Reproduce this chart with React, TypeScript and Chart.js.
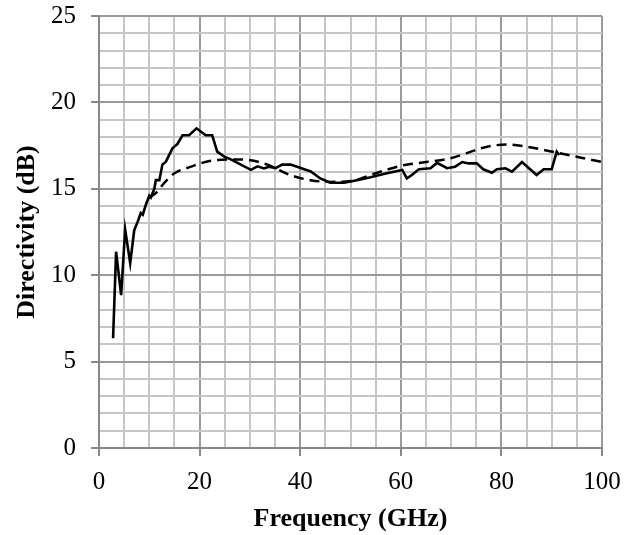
import React, { useEffect, useRef } from "react";
import { Chart, registerables } from "chart.js";

Chart.register(...registerables);

// Measured (solid) curve: frequency (GHz) and directivity (dB)
const solidFreq = [2.8, 3.4, 4.4, 5.2, 6.2, 7.0, 7.7, 8.3, 8.7, 9.3, 10.0, 10.3, 11.0, 11.3, 12.0, 12.6, 13.3, 14.6, 15.6, 16.6, 17.9, 19.4, 21.2, 22.5, 23.5, 24.9, 26.2, 28.2, 30.2, 31.5, 32.8, 33.8, 35.1, 36.4, 38.1, 40.1, 42.1, 44.0, 46.0, 48.7, 51.3, 54.0, 57.0, 60.3, 61.2, 62.2, 63.6, 65.9, 67.2, 69.2, 70.8, 72.2, 73.5, 75.1, 76.4, 78.1, 79.1, 80.8, 82.1, 84.1, 85.7, 87.0, 88.4, 90.0, 91.0, 91.5];
const solidDir = [6.35, 11.36, 8.85, 12.65, 10.7, 12.6, 13.1, 13.6, 13.5, 14.06, 14.6, 14.5, 15.0, 15.5, 15.5, 16.4, 16.57, 17.34, 17.6, 18.1, 18.1, 18.5, 18.1, 18.1, 17.15, 16.86, 16.7, 16.4, 16.1, 16.3, 16.18, 16.28, 16.2, 16.4, 16.4, 16.2, 16.0, 15.6, 15.35, 15.35, 15.5, 15.67, 15.88, 16.09, 15.6, 15.8, 16.13, 16.19, 16.5, 16.19, 16.28, 16.55, 16.47, 16.47, 16.13, 15.93, 16.13, 16.19, 15.99, 16.55, 16.13, 15.8, 16.13, 16.13, 17.15, 16.96];

// Simulated (dashed) curve
const dashedFreq = [10, 11.3, 13, 15, 18.3, 20.5, 23.5, 28.2, 32.8, 38, 42, 46, 50, 55, 60.3, 65, 69.8, 73, 76.4, 81.1, 85, 91, 95, 100];
const dashedDir = [14.5, 14.75, 15.35, 15.9, 16.28, 16.5, 16.67, 16.7, 16.47, 15.8, 15.5, 15.4, 15.45, 15.9, 16.35, 16.55, 16.76, 17.05, 17.38, 17.57, 17.44, 17.09, 16.85, 16.55];

const xTicks = [0, 20, 40, 60, 80, 100];
const yTicks = [0, 5, 10, 15, 20, 25];

const FONT = "'Liberation Serif', 'Times New Roman', serif";

export default function App() {
  const ref = useRef<HTMLCanvasElement>(null);
  useEffect(() => {
    if (!ref.current) return;
    const solid = solidFreq.map((x, i) => ({ x, y: solidDir[i] }));
    const dashed = dashedFreq.map((x, i) => ({ x, y: dashedDir[i] }));
    const isMajorX = (v: number) => xTicks.includes(v);
    const isMajorY = (v: number) => yTicks.includes(v);
    const chart = new Chart(ref.current, {
      type: "line",
      data: {
        datasets: [
          {
            label: "solid",
            data: solid,
            borderColor: "#000",
            borderWidth: 2.6,
            pointRadius: 0,
            tension: 0,
            fill: false,
          },
          {
            label: "dashed",
            data: dashed,
            borderColor: "#000",
            borderWidth: 2.5,
            borderDash: [10, 6],
            pointRadius: 0,
            tension: 0.4,
            cubicInterpolationMode: "monotone",
            fill: false,
          },
        ],
      },
      options: {
        animation: false,
        responsive: false,
        devicePixelRatio: 1,
        layout: { padding: { left: 0, right: 32, top: 16, bottom: 0 } },
        plugins: { legend: { display: false }, tooltip: { enabled: false } },
        scales: {
          x: {
            type: "linear",
            min: 0,
            max: 100,
            afterFit: (s: any) => {
              s.height = 87;
              s.paddingLeft = 0;
              s.paddingRight = 0;
            },
            ticks: {
              stepSize: 5,
              autoSkip: false,
              maxRotation: 0,
              padding: 11,
              color: "#000",
              font: { family: FONT, size: 25 },
              callback: (v: any) => (isMajorX(Number(v)) ? String(v) : ""),
            },
            grid: {
              color: (c: any) => (isMajorX(c.tick?.value) ? "#9a9a9a" : "#c6c6c6"),
              lineWidth: 2,
              tickLength: 8,
              tickColor: (c: any) => (isMajorX(c.tick?.value) ? "#888" : "rgba(0,0,0,0)"),
            },
            border: { display: true, color: "#888", width: 2 },
            title: {
              display: true,
              text: "Frequency (GHz)",
              color: "#000",
              font: { family: FONT, size: 26, weight: "bold" },
              padding: { top: 0, bottom: 0 },
            },
          },
          y: {
            type: "linear",
            min: 0,
            max: 25,
            afterFit: (s: any) => {
              s.width = 99;
              s.paddingTop = 0;
              s.paddingBottom = 0;
            },
            ticks: {
              stepSize: 1,
              autoSkip: false,
              padding: 15,
              color: "#000",
              font: { family: FONT, size: 25 },
              callback: (v: any) => (isMajorY(Number(v)) ? String(v) : ""),
            },
            grid: {
              color: (c: any) => (isMajorY(c.tick?.value) ? "#9a9a9a" : "#c6c6c6"),
              lineWidth: 2,
              tickLength: 8,
              tickColor: (c: any) => (isMajorY(c.tick?.value) ? "#888" : "rgba(0,0,0,0)"),
            },
            border: { display: true, color: "#888", width: 2 },
            title: {
              display: true,
              text: "Directivity (dB)",
              color: "#000",
              font: { family: FONT, size: 26, weight: "bold" },
              padding: { top: 12, bottom: 0 },
            },
          },
        },
      },
    });
    return () => chart.destroy();
  }, []);
  return (
    <div style={{ position: "fixed", left: 0, top: 0, width: 634, height: 535, background: "#fff" }}>
      <canvas ref={ref} width={634} height={535} style={{ display: "block", width: 634, height: 535 }} />
    </div>
  );
}
